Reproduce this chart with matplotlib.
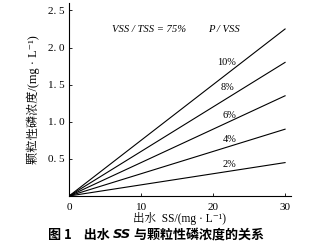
import numpy as np
from matplotlib import pyplot as plt

plt.rcParams['font.family'] = ['Liberation Serif', 'Noto Serif CJK SC', 'Noto Sans CJK SC', 'DejaVu Serif']

# effluent SS (mg/L), P/VSS fractions, VSS/TSS ratio
ss = [0, 30]
p_vss = [0.02, 0.04, 0.06, 0.08, 0.10]
p_labels = ['2%', '4%', '6%', '8%', '10%']
vss_tss = 0.75
# label positions
lab_x = [22.3, 22.3, 22.3, 22.0, 21.9]
lab_y = [0.42, 0.76, 1.09, 1.46, 1.80]

f = plt.figure(figsize=(3.32, 2.5), dpi=100)
ax = f.add_axes([0.208, 0.216, 0.668, 0.772])

for p in p_vss:
	y = [s * vss_tss * p for s in ss]
	ax.plot(ss, y, color='k', linewidth=0.8)

for x, y, t in zip(lab_x, lab_y, p_labels):
	ax.text(x, y, t, fontsize=7.5, ha='center', va='center')

ax.text(6.0, 2.24, 'VSS / TSS = 75%', fontsize=7.7, style='italic', va='center')
ax.text(19.3, 2.24, 'P / VSS', fontsize=7.7, style='italic', va='center')

ax.set_xlim(0, 30.8)
ax.set_ylim(0, 2.6)
ax.set_xticks([0, 10, 20, 30])
ax.set_yticks([0.5, 1.0, 1.5, 2.0, 2.5])
ax.set_yticklabels(['0. 5', '1. 0', '1. 5', '2. 0', '2. 5'])
ax.tick_params(direction='in', length=2.5, width=0.6, labelsize=8, pad=3)
ax.tick_params(axis='x', pad=5)
for s in ['top', 'right']:
	ax.spines[s].set_visible(False)
for s in ['left', 'bottom']:
	ax.spines[s].set_linewidth(0.8)

ax.set_xlabel('出水  SS/(mg · L⁻¹)', fontsize=8.3, labelpad=0)
ax.set_ylabel('颗粒性磷浓度/(mg · L⁻¹)', fontsize=8.8, labelpad=6)

# caption, with SS in italic
cap = ['图 1    出水 ', 'SS', ' 与颗粒性磷浓度的关系']
cap_style = ['normal', 'italic', 'normal']
fam = ['Noto Sans CJK SC', 'DejaVu Sans']
f.canvas.draw()
r = f.canvas.get_renderer()
parts = []
for t, st in zip(cap, cap_style):
	parts.append(f.text(0, 0.062, t, fontsize=9.4, fontweight='bold', style=st,
		family=fam if st == 'normal' else ['DejaVu Sans'], va='center'))
widths = [p.get_window_extent(r).width for p in parts]
x0 = 48
for p, w in zip(parts, widths):
	p.set_x(x0 / 332)
	x0 += w

f.savefig('out.png', dpi=100)
